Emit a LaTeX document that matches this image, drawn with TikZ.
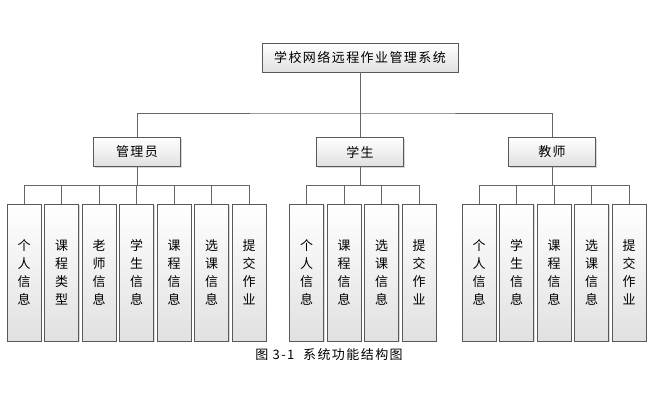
\documentclass[tikz,border=0pt]{standalone}
\usepackage{fontspec}
\setmainfont[LetterSpace=11]{Noto Sans CJK SC}
\usetikzlibrary{shadows}
\tikzset{
  box/.style={draw=black!65, line width=0.8pt, top color=white, bottom color=black!12,
    drop shadow={shadow xshift=1pt, shadow yshift=-1pt, fill=black!30},
    inner sep=0pt, font=\fontsize{13}{18}\selectfont},
  topbox/.style={box, minimum width=196pt, minimum height=29pt},
  rolebox/.style={box, minimum width=87pt, minimum height=29pt},
  leafbox/.style={box, minimum width=34pt, minimum height=137pt, align=center},
  link/.style={draw=black!60, line width=0.9pt}
}
\begin{document}
\begin{tikzpicture}[x=1pt, y=-1pt]
  \useasboundingbox[fill=white] (0,0) rectangle (655,416);
  % top and second level
  \node[topbox] (sys) at (360,57.5) {学校网络远程作业管理系统};
  \node[rolebox] (admin) at (137,152) {管理员};
  \node[rolebox] (stu) at (360,152) {学生};
  \node[rolebox] (tea) at (552,152) {教师};
  \coordinate (bus) at (360,113);
  \draw[link] (sys) -- (stu);
  \draw[link] (admin) |- (bus) -| (tea);
  % leaves
  \foreach \t [count=\i from 0] in {{个\\人\\信\\息},{课\\程\\类\\型},{老\\师\\信\\息},{学\\生\\信\\息},{课\\程\\信\\息},{选\\课\\信\\息},{提\\交\\作\\业}}{
    \node[leafbox] (a\i) at (24+37.5*\i,272.5) {\t};
    \draw[link] (admin.south) -- ++(0,18.5) -| (a\i);
  }
  \foreach \t [count=\i from 0] in {{个\\人\\信\\息},{课\\程\\信\\息},{选\\课\\信\\息},{提\\交\\作\\业}}{
    \node[leafbox] (s\i) at (306.5+37.5*\i,272.5) {\t};
    \draw[link] (stu.south) -- ++(0,18.5) -| (s\i);
  }
  \foreach \t [count=\i from 0] in {{个\\人\\信\\息},{学\\生\\信\\息},{课\\程\\信\\息},{选\\课\\信\\息},{提\\交\\作\\业}}{
    \node[leafbox] (t\i) at (479+37.5*\i,272.5) {\t};
    \draw[link] (tea.south) -- ++(0,18.5) -| (t\i);
  }
  \node[font=\fontsize{13}{16}\selectfont] (cap) at (329,355) {图 3-1\ \ 系统功能结构图};
\end{tikzpicture}
\end{document}
